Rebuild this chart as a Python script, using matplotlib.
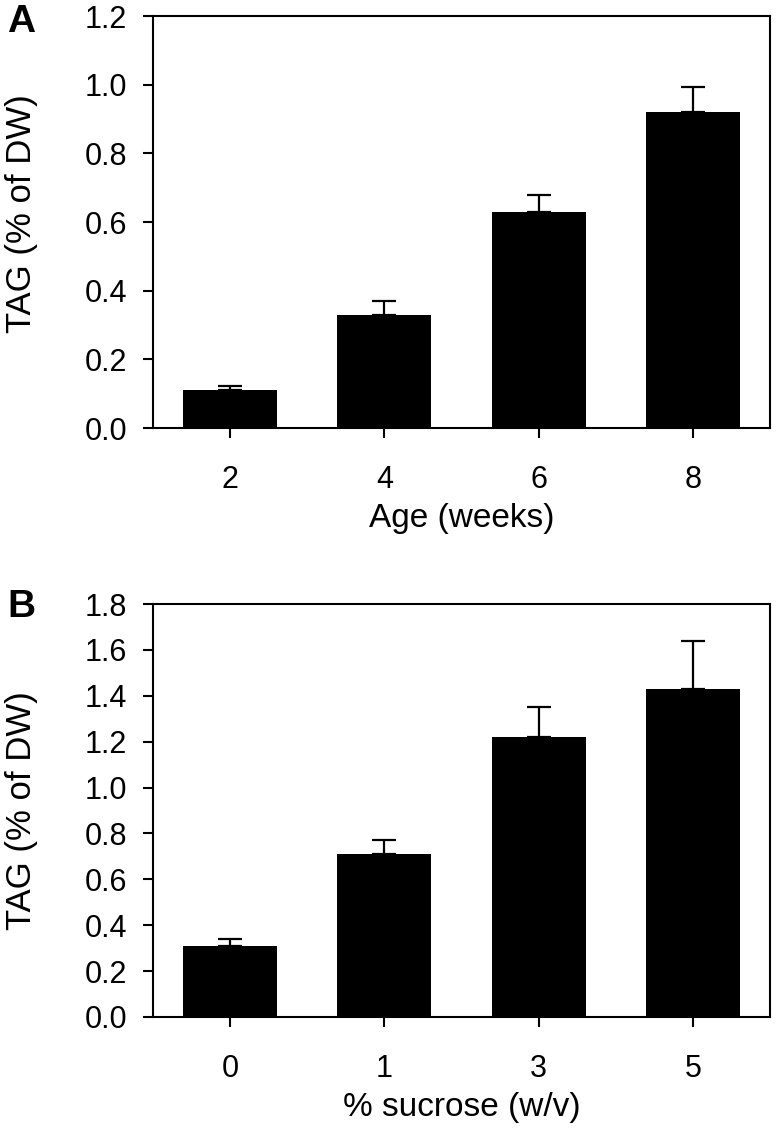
import matplotlib
matplotlib.use("Agg")
import matplotlib.pyplot as plt

plt.rcParams["font.family"] = ["Liberation Sans", "DejaVu Sans"]

# Panel A: TAG content vs culture age
age_labels = ["2", "4", "6", "8"]
tag_age = [0.11, 0.33, 0.63, 0.92]
tag_age_err = [0.012, 0.04, 0.05, 0.073]

# Panel B: TAG content vs sucrose concentration
sucrose_labels = ["0", "1", "3", "5"]
tag_sucrose = [0.31, 0.71, 1.22, 1.43]
tag_sucrose_err = [0.03, 0.06, 0.13, 0.21]

W, H = 776, 1134
fig = plt.figure(figsize=(W / 100, H / 100), dpi=100)


def panel(rect_px, labels, vals, errs, ymax, yticks, xlabel, ylab_y):
    x0, y_top, x1, y_bot = rect_px
    ax = fig.add_axes([x0 / W, 1 - y_bot / H, (x1 - x0) / W, (y_bot - y_top) / H])
    pos = list(range(len(labels)))
    ax.bar(pos, vals, width=0.61, color="black", zorder=2)
    ax.errorbar(pos, vals, yerr=[[0] * len(errs), errs], fmt="none",
                ecolor="black", elinewidth=1.6, capsize=8.5, capthick=1.6, zorder=1)
    ax.set_xlim(-0.5, 3.5)
    ax.set_ylim(0, ymax)
    ax.set_xticks(pos)
    ax.set_xticklabels(labels)
    ax.set_yticks(yticks)
    ax.set_yticklabels([f"{t:.1f}" for t in yticks])
    for s in ax.spines.values():
        s.set_linewidth(1.5)
    ax.tick_params(axis="both", direction="out", length=7.5, width=1.5,
                   labelsize=22, top=False, right=False)
    ax.tick_params(axis="y", pad=11)
    ax.tick_params(axis="x", pad=19)
    ax.set_xlabel(xlabel, fontsize=24, labelpad=6)
    ax.set_ylabel("TAG (% of DW)", fontsize=25)
    ax.yaxis.set_label_coords(-0.187, ylab_y)
    return ax


panel((153, 16, 770, 428), age_labels, tag_age, tag_age_err, 1.2,
      [0.0, 0.2, 0.4, 0.6, 0.8, 1.0, 1.2], "Age (weeks)", 0.52)
panel((153, 604, 770, 1017), sucrose_labels, tag_sucrose, tag_sucrose_err, 1.8,
      [0.0, 0.2, 0.4, 0.6, 0.8, 1.0, 1.2, 1.4, 1.6, 1.8], "% sucrose (w/v)", 0.5)

fig.text(7 / W, 1 - 4 / H, "A", fontsize=28, fontweight="bold", va="top", ha="left")
fig.text(7 / W, 1 - 589 / H, "B", fontsize=28, fontweight="bold", va="top", ha="left")

fig.savefig("out.png", dpi=100)
